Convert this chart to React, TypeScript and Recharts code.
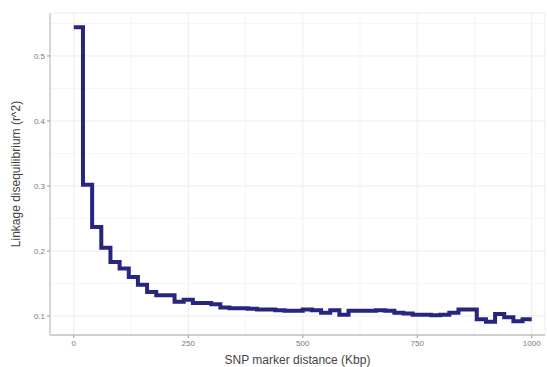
import { LineChart, Line, XAxis, YAxis, CartesianGrid, ReferenceLine, Label } from 'recharts';

// distance bins (Kbp) and mean r^2 per bin
const distances = [
  0, 20, 40, 60, 80, 100, 120, 140, 160, 180, 200, 220, 240, 260, 280, 300, 320, 340, 360, 380,
  400, 420, 440, 460, 480, 500, 520, 540, 560, 580, 600, 620, 640, 660, 680, 700, 720, 740, 760,
  780, 800, 820, 840, 860, 880, 900, 920, 940, 960, 980, 1000,
];
const r2 = [
  0.544, 0.302, 0.237, 0.205, 0.183, 0.173, 0.16, 0.148, 0.137, 0.132, 0.132, 0.122, 0.125, 0.12,
  0.12, 0.118, 0.113, 0.112, 0.112, 0.111, 0.11, 0.11, 0.109, 0.108, 0.108, 0.11, 0.109, 0.105,
  0.109, 0.102, 0.108, 0.108, 0.108, 0.109, 0.108, 0.105, 0.104, 0.102, 0.102, 0.101, 0.102,
  0.105, 0.11, 0.11, 0.095, 0.091, 0.103, 0.098, 0.092, 0.095, 0.095,
];
const xTicks = [0, 250, 500, 750, 1000];
const yTicks = [0.1, 0.2, 0.3, 0.4, 0.5];
const xMinor = [125, 375, 625, 875];
const yMinor = [0.15, 0.25, 0.35, 0.45, 0.55];

const data = distances.map((d, i) => ({ dist: d, r2: r2[i] }));

const GRID = '#ececec';
const FONT = 'Liberation Sans, Arial, sans-serif';
const TICK = { fontSize: 8, fill: '#7a7a7a', fontFamily: FONT };

export default function App() {
  return (
    <div style={{ position: 'absolute', left: 0, top: 0, background: '#fff' }}>
      <LineChart width={547} height={367} data={data} margin={{ top: 13, right: 2, left: 0, bottom: 0 }}>
        <CartesianGrid stroke={GRID} strokeWidth={1} />
        {xMinor.map((v) => (
          <ReferenceLine key={'x' + v} x={v} stroke="#f5f5f5" strokeWidth={1} />
        ))}
        {yMinor.map((v) => (
          <ReferenceLine key={'y' + v} y={v} stroke="#f5f5f5" strokeWidth={1} />
        ))}
        <XAxis
          dataKey="dist"
          type="number"
          domain={[-52, 1029]}
          ticks={xTicks}
          allowDataOverflow
          height={32}
          tick={TICK}
          tickSize={3}
          axisLine={{ stroke: '#cfcfcf', strokeWidth: 2 }}
          tickLine={{ stroke: '#9a9a9a' }}
        >
          <Label
            value="SNP marker distance (Kbp)"
            position="insideBottom"
            offset={3}
            style={{ fontSize: 12, fill: '#444', fontFamily: FONT }}
          />
        </XAxis>
        <XAxis
          xAxisId="top"
          orientation="top"
          dataKey="dist"
          type="number"
          domain={[-52, 1029]}
          height={0}
          tick={false}
          tickLine={false}
          axisLine={{ stroke: '#d6d6d6', strokeWidth: 2 }}
        />
        <YAxis
          type="number"
          domain={[0.0708, 0.566]}
          ticks={yTicks}
          allowDataOverflow
          width={50}
          tick={TICK}
          tickSize={3}
          tickFormatter={(v: number) => v.toFixed(1)}
          axisLine={{ stroke: '#d6d6d6', strokeWidth: 2 }}
          tickLine={{ stroke: '#9a9a9a' }}
        >
          <Label
            value="Linkage disequilibrium (r^2)"
            angle={-90}
            position="insideLeft"
            offset={16}
            style={{ textAnchor: 'middle', fontSize: 12, fill: '#444', fontFamily: FONT }}
          />
        </YAxis>
        <Line
          type="stepAfter"
          dataKey="r2"
          stroke="#26267f"
          strokeWidth={4}
          dot={false}
          isAnimationActive={false}
        />
      </LineChart>
    </div>
  );
}
